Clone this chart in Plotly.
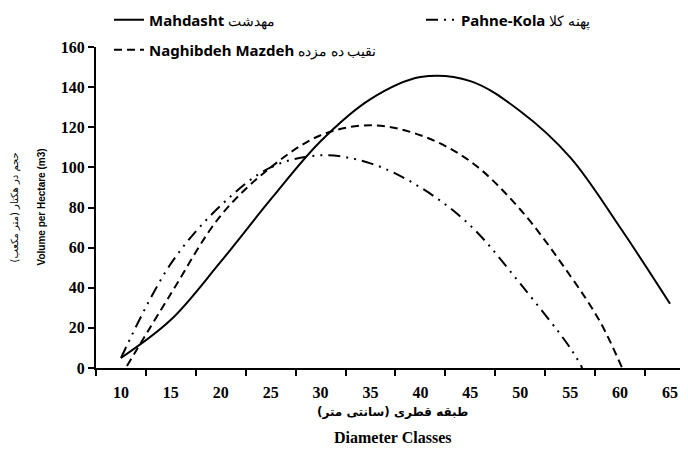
import plotly.graph_objects as go

# ---- data ----
mahdasht_x = [10, 15, 20, 25, 30, 35, 40, 45, 50, 55, 60, 65]
mahdasht_y = [5, 24, 53, 84, 113, 134, 145, 143, 128, 105, 70, 32]

pahne_x = [10, 15, 20, 25, 30, 35, 40, 45, 50, 55, 56.2]
pahne_y = [5, 52, 81, 100, 106, 102, 90, 71, 42, 10, 0]

naghib_x = [10.6, 15, 20, 25, 30, 35, 40, 45, 50, 55, 58, 60.2]
naghib_y = [1, 37, 76, 100, 116, 121, 116, 103, 79, 46, 23, 0]

x_tick_labels = [10, 15, 20, 25, 30, 35, 40, 45, 50, 55, 60, 65]
x_boundaries = [7.5, 12.5, 17.5, 22.5, 27.5, 32.5, 37.5, 42.5, 47.5, 52.5, 57.5, 62.5]
y_ticks = [0, 20, 40, 60, 80, 100, 120, 140, 160]

W, H = 680, 442  # page adds an 8px body margin

fig = go.Figure()
fig.add_trace(go.Scatter(
    x=mahdasht_x, y=mahdasht_y, mode="lines", line_shape="spline",
    line=dict(color="black", width=2),
    name="<b>Mahdasht</b> <span style='font-size:14px'>مهدشت</span>",
    legend="legend"))
fig.add_trace(go.Scatter(
    x=pahne_x, y=pahne_y, mode="lines", line_shape="spline",
    line=dict(color="black", width=2, dash="12px,6px,2px,6px,2px,6px"),
    name="<b>Pahne-Kola</b> <span style='font-size:14px'>پهنه کلا</span>",
    legend="legend2"))
fig.add_trace(go.Scatter(
    x=naghib_x, y=naghib_y, mode="lines", line_shape="spline",
    line=dict(color="black", width=2, dash="8px,5px"),
    name="<b>Naghibdeh Mazdeh</b> <span style='font-size:14px'>نقیب ده مزده</span>",
    legend="legend3"))

legend_common = dict(font=dict(family="Noto Sans", size=15, color="black"),
                      bgcolor="rgba(0,0,0,0)", borderwidth=0,
                      xref="container", yref="container",
                      xanchor="left", yanchor="middle")

fig.update_layout(
    width=W, height=H,
    margin=dict(l=88, r=0, t=39, b=82, autoexpand=False),
    paper_bgcolor="white", plot_bgcolor="white",
    showlegend=True,
    legend=dict(x=101/W, y=1-12/H, **legend_common),
    legend2=dict(x=413/W, y=1-12/H, **legend_common),
    legend3=dict(x=101/W, y=1-42/H, **legend_common),
    xaxis=dict(
        range=[7.5, 66.8], showgrid=False, zeroline=False,
        showline=True, linecolor="black", linewidth=2,
        tickmode="array", tickvals=x_tick_labels,
        ticktext=[str(v) for v in x_tick_labels],
        ticks="", ticklabelstandoff=9,
        tickfont=dict(family="Liberation Serif", size=16, color="black", weight="bold"),
        minor=dict(tickmode="array", tickvals=x_boundaries, ticks="outside",
                   ticklen=6, tickwidth=2, tickcolor="black", showgrid=False),
    ),
    yaxis=dict(
        range=[0, 160], showgrid=False, zeroline=False,
        showline=True, linecolor="black", linewidth=2,
        tickmode="array", tickvals=y_ticks,
        ticks="outside", ticklen=6, tickwidth=2, tickcolor="black",
        tickfont=dict(family="Liberation Serif", size=16, color="black", weight="bold"),
    ),
    annotations=[
        dict(text="طبقه قطری (سانتی متر)", xref="paper", yref="paper",
             x=0.5, y=(368 - 412) / 321, showarrow=False,
             xanchor="center", yanchor="middle",
             font=dict(family="DejaVu Sans", size=12, color="black", weight="bold")),
        dict(text="Diameter Classes", xref="paper", yref="paper",
             x=0.5, y=(368 - 437) / 321, showarrow=False,
             xanchor="center", yanchor="middle",
             font=dict(family="Liberation Serif", size=16, color="black", weight="bold")),
        dict(text="Volume per Hectare (m3)", xref="paper", yref="paper",
             x=(41 - 96) / 592, y=0.5, showarrow=False, textangle=-90,
             xanchor="center", yanchor="middle",
             font=dict(family="Liberation Sans", size=10, color="black", weight="bold")),
        dict(text="حجم در هکتار (متر مکعب)", xref="paper", yref="paper",
             x=(14 - 96) / 592, y=0.5, showarrow=False, textangle=-90,
             xanchor="center", yanchor="middle",
             font=dict(family="DejaVu Sans", size=10, color="black")),
    ],
)

fig.write_html("out.html")
